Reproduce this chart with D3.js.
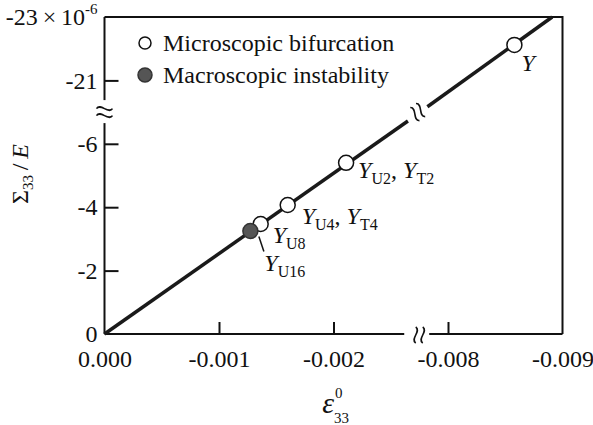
<!DOCTYPE html>
<meta charset="utf-8">
<style>
body { margin: 0; background: #fff; }
text { font-family: "Liberation Serif", "Times New Roman", serif; fill: #111; }
.axis line { stroke: #111; stroke-width: 2; }
</style>
<svg width="593" height="425"></svg>
<script src="https://d3js.org/d3.v7.min.js"></script>
<script>

// tick values and axis breaks
let xTicks = [0, -0.001, -0.002, -0.008, -0.009];
let yTicks = [0, -2, -4, -6, -21, -23];
let xBreak = [-0.00274, -0.00774];
let yBreak = [-7, -20];

// the stress-strain line, in two pieces either side of the break
let lineLow = [[0, 0], [-0.00265, -6.72]];
let lineHigh = [[-0.00782, -20.17], [-0.00891, -23]];

// bifurcation points
let names = ['Y', 'U2', 'U4', 'U8', 'U16'];
let strains = [-0.00858, -0.00211, -0.0016, -0.001364, -0.001274];
let stresses = [-22.12, -5.40, -4.07, -3.47, -3.25];
let kinds = ['micro', 'micro', 'micro', 'micro', 'macro'];
let subs = [[''], ['U2', 'T2'], ['U4', 'T4'], ['U8'], ['U16']];

let legendLabels = ['Microscopic bifurcation', 'Macroscopic instability'];

let serif = '"Liberation Serif", "Times New Roman", serif';
let svg = d3.select('svg').attr('font-family', serif);
let pLeft = 104.5, pRight = 562.5, pTop = 17, pBottom = 334;

// broken scales: the gap collapses to a single pixel position
let xSpan = Math.abs(xBreak[0]) + Math.abs(-0.009 - xBreak[1]);
let xb = pLeft + (pRight - pLeft) * Math.abs(xBreak[0]) / xSpan;
let x = d3.scaleLinear().domain([0, xBreak[0], xBreak[1], -0.009]).range([pLeft, xb, xb, pRight]);

let ySpan = Math.abs(yBreak[0]) + Math.abs(-23 - yBreak[1]);
let yb = pBottom - (pBottom - pTop) * Math.abs(yBreak[0]) / ySpan;
let y = d3.scaleLinear().domain([0, yBreak[0], yBreak[1], -23]).range([pBottom, yb, yb, pTop]);

let ink = '#111';

// frame (top and right)
svg.append('path')
    .attr('d', `M${pLeft},${pTop}H${pRight}V${pBottom}`)
    .attr('fill', 'none').attr('stroke', ink).attr('stroke-width', 2);

// x axis
let xAxis = svg.append('g').attr('class', 'axis')
    .attr('transform', `translate(0,${pBottom})`)
    .call(d3.axisBottom(x).tickValues(xTicks).tickSize(-12).tickPadding(16)
      .tickFormat(d => d === 0 ? '0.000' : '-' + Math.abs(d).toFixed(3)));
xAxis.attr('font-family', serif).attr('font-size', 24);
xAxis.select('.domain').remove();
xAxis.selectAll('.tick').filter(d => d === 0 || d === -0.009).select('line').remove();

// y axis
let yAxis = svg.append('g').attr('class', 'axis')
    .attr('transform', `translate(${pLeft},0)`)
    .call(d3.axisLeft(y).tickValues(yTicks).tickSize(-14).tickPadding(7)
      .tickFormat(d => d === 0 ? '0' : d === -23 ? '-23\u2009\u00d7\u200910' : '-' + Math.abs(d)));
yAxis.attr('font-family', serif).attr('font-size', 24);
yAxis.select('.domain').remove();
yAxis.selectAll('.tick').filter(d => d === 0 || d === -23).select('line').remove();
yAxis.selectAll('.tick').filter(d => d === -23).select('text')
  .append('tspan').attr('font-size', 15).attr('dy', '-0.75em').text('-6');

// axis lines with gaps at the breaks
let axisLine = d3.line();
let gap = 11;
[[[pLeft, pBottom], [xb - 14, pBottom]], [[xb + 11, pBottom], [pRight, pBottom]],
 [[pLeft, pBottom], [pLeft, yb + gap]], [[pLeft, yb - gap - 1], [pLeft, pTop]]].forEach(seg => {
  svg.append('path').attr('d', axisLine(seg))
      .attr('fill', 'none').attr('stroke', ink).attr('stroke-width', 2);
});

// break marks
let wave = 'M0,-8 C6,-4 -6,4 0,8';
function breakMark(cx, cy, angle) {
  let g = svg.append('g').attr('transform', `translate(${cx},${cy}) rotate(${angle})`);
  [-3.5, 3.5].forEach(dx => {
    g.append('path').attr('d', wave).attr('transform', `translate(${dx},0)`)
        .attr('fill', 'none').attr('stroke', ink).attr('stroke-width', 1.6);
  });
}
breakMark(xb + 1, pBottom + 1, 0);
breakMark(pLeft, yb, 90);
let lineAngle = Math.atan2(y(lineLow[1][1]) - y(0), x(lineLow[1][0]) - x(0)) * 180 / Math.PI;
breakMark(xb - 0.5, yb, lineAngle);

// the line
let line = d3.line().x(d => x(d[0])).y(d => y(d[1]));
[lineLow, lineHigh].forEach(seg => {
  svg.append('path').attr('d', line(seg))
      .attr('fill', 'none').attr('stroke', '#1a1a1a').attr('stroke-width', 3.5);
});

// points
let pts = names.map((n, i) => ({name: n, e: strains[i], s: stresses[i], kind: kinds[i], subs: subs[i]}));
svg.selectAll('circle.pt').data(pts).enter().append('circle')
    .attr('class', 'pt')
    .attr('cx', d => x(d.e)).attr('cy', d => y(d.s)).attr('r', 7.5)
    .attr('fill', d => d.kind === 'macro' ? '#555' : '#fff')
    .attr('stroke', d => d.kind === 'macro' ? '#333' : ink)
    .attr('stroke-width', 1.5);

// point labels
let labelOffset = {Y: [7, 26], U2: [12, 15], U4: [14, 19], U8: [12, 19], U16: [14, 40]};
pts.forEach(d => {
  let off = labelOffset[d.name];
  let t = svg.append('text').attr('x', x(d.e) + off[0]).attr('y', y(d.s) + off[1])
      .attr('font-size', 24);
  d.subs.forEach((s, j) => {
    if (j > 0) t.append('tspan').attr('dy', -6).text(', ');
    t.append('tspan').attr('font-style', 'italic').text('Y');
    if (s) t.append('tspan').attr('font-size', 16).attr('dy', 6).text(s);
  });
});
// leader for Y_U16
let u16 = pts[4];
svg.append('line')
    .attr('x1', x(u16.e) + 8.5).attr('y1', y(u16.s) + 5.5)
    .attr('x2', x(u16.e) + 13.5).attr('y2', y(u16.s) + 20.5)
    .attr('stroke', ink).attr('stroke-width', 1.5);

// legend
let legend = svg.append('g');
legendLabels.forEach((lab, i) => {
  let cy = 43 + i * 32;
  legend.append('circle').attr('cx', 145).attr('cy', cy).attr('r', i ? 7 : 6)
      .attr('fill', i ? '#555' : '#fff').attr('stroke', i ? '#333' : ink).attr('stroke-width', 1.5);
  legend.append('text').attr('x', 163).attr('y', cy + 7.5).attr('font-size', 24).text(lab);
});

// axis titles
let yt = svg.append('text').attr('transform', 'translate(28,174) rotate(-90)')
    .attr('text-anchor', 'middle').attr('font-size', 24);
yt.append('tspan').text('\u03a3');
yt.append('tspan').attr('font-size', 15).attr('dy', 5).text('33');
yt.append('tspan').attr('dy', -5).text('\u2009/\u2009');
yt.append('tspan').attr('font-style', 'italic').text('E');

svg.append('text').attr('x', 334).attr('y', 413).attr('font-size', 30)
    .attr('font-style', 'italic').attr('text-anchor', 'end').text('\u03b5');
svg.append('text').attr('x', 335).attr('y', 398).attr('font-size', 15).text('0');
svg.append('text').attr('x', 334).attr('y', 423).attr('font-size', 15).text('33');

</script>
